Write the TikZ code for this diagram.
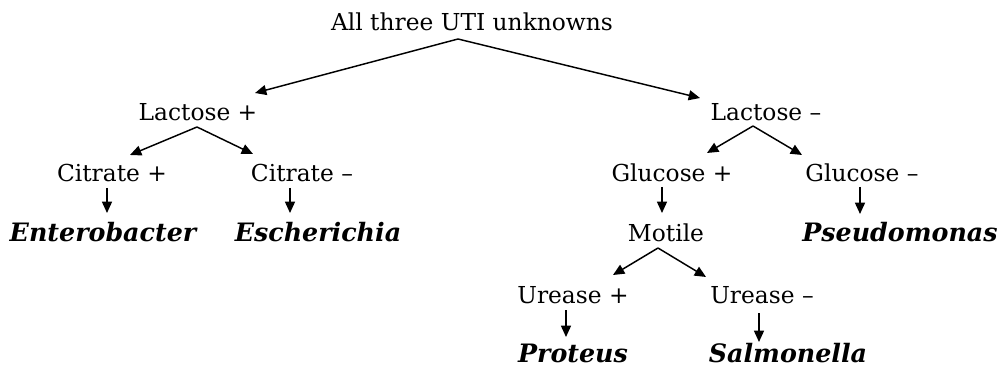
\documentclass[tikz,border=0pt]{standalone}
\usepackage{fontspec}
\setmainfont{DejaVu Serif}
\usetikzlibrary{arrows.meta,calc}

\begin{document}
\begin{tikzpicture}[x=0.75pt,y=-0.75pt,
    every node/.style={anchor=base,inner sep=0pt,font=\fontsize{17.5}{20}\selectfont},
    genus/.style={font=\fontsize{19}{22}\selectfont\bfseries\itshape},
    >={Triangle[length=8.5pt,width=7.5pt]},line width=1.1pt]
                \useasboundingbox (0,0) rectangle (1000,367);

                % Nodes
                \node (root) at (472,31) {All three UTI unknowns};
                \node (lplus) at (198,121) {Lactose +};
                \node (lminus) at (766,121) {Lactose --};
                \node (cplus) at (112,182) {Citrate +};
                \node (cminus) at (302,182) {Citrate --};
                \node[genus] (entero) at (103,242) {Enterobacter};
                \node[genus] (escher) at (318,242) {Escherichia};
                \node (gplus) at (672,182) {Glucose +};
                \node (gminus) at (862,182) {Glucose --};
                \node (motile) at (666,242) {Motile};
                \node[genus] (pseudo) at (900,242) {Pseudomonas};
                \node (uplus) at (573,303) {Urease +};
                \node (uminus) at (762,303) {Urease --};
                \node[genus] (proteus) at (573,362) {Proteus};
                \node[genus] (salmo) at (788,362) {Salmonella};

                % Edges
                \draw[->] ($(root.base)+(-14,8)$)--($(lplus.base)+(57,-28)$);
                \draw[->] ($(root.base)+(-14,8)$)--($(lminus.base)+(-66,-23)$);
                \draw[->] ($(lplus.base)+(-1,6)$)--($(cplus.base)+(18,-27)$);
                \draw[->] ($(lplus.base)+(-1,6)$)--($(cminus.base)+(-49,-28)$);
                \draw[->] ($(cplus.base)+(-5,6)$)--($(entero.base)+(4,-29)$);
                \draw[->] ($(cminus.base)+(-12,6)$)--($(escher.base)+(-28,-29)$);
                \draw[->] ($(lminus.base)+(-13,5)$)--($(gplus.base)+(35,-29)$);
                \draw[->] ($(lminus.base)+(-13,5)$)--($(gminus.base)+(-60,-27)$);
                \draw[->] ($(gplus.base)+(-10,5)$)--($(motile.base)+(-4,-29)$);
                \draw[->] ($(gminus.base)+(-2,5)$)--($(pseudo.base)+(-40,-28)$);
                \draw[->] ($(motile.base)+(-8,6)$)--($(uplus.base)+(40,-28)$);
                \draw[->] ($(motile.base)+(-8,6)$)--($(uminus.base)+(-56,-26)$);
                \draw[->] ($(uplus.base)+(-7,7)$)--($(proteus.base)+(-7,-25)$);
                \draw[->] ($(uminus.base)+(-3,10)$)--($(salmo.base)+(-29,-20)$);
            \end{tikzpicture}
\end{document}
